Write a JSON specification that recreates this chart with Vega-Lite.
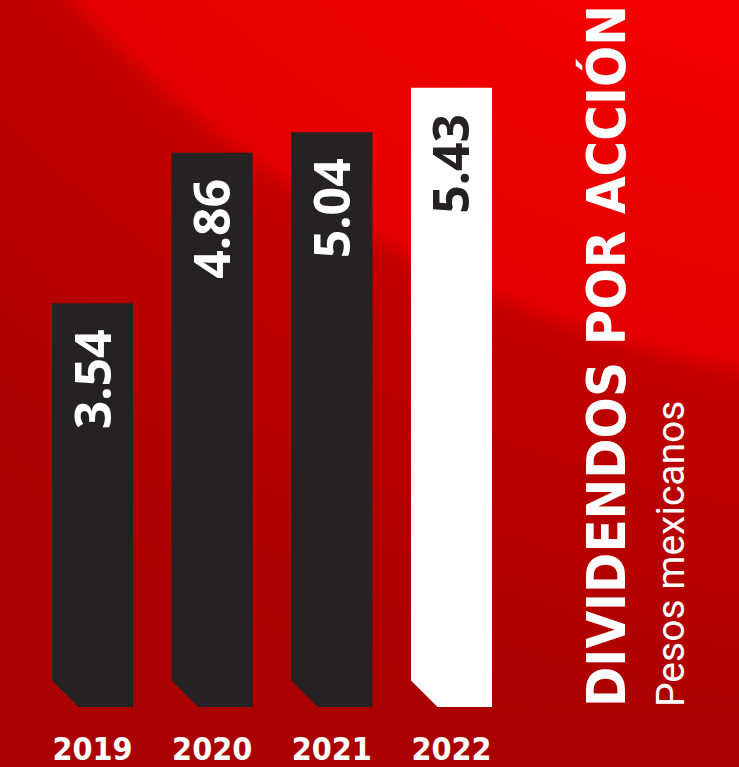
{
  "$schema": "https://vega.github.io/schema/vega-lite/v6.json",
  "width": 739,
  "height": 707,
  "padding": {"top": 0, "left": 0, "right": 0, "bottom": 60},
  "autosize": {"type": "none"},
  "background": "#ab0000",
  "config": {
    "view": {
      "stroke": null,
      "fill": {
        "gradient": "radial",
        "x1": 1.3151, "y1": -1.1115, "r1": 0,
        "x2": 1.3151, "y2": -1.1115, "r2": 2.5,
        "stops": [
          {"offset": 0, "color": "#ff0000"},
          {"offset": 0.45, "color": "#f70000"},
          {"offset": 0.66, "color": "#e40000"},
          {"offset": 0.672, "color": "#c40000"},
          {"offset": 0.7, "color": "#bd0000"},
          {"offset": 0.8, "color": "#b40000"},
          {"offset": 0.88, "color": "#ab0000"},
          {"offset": 1, "color": "#ab0000"}
        ]
      }
    }
  },
  "title": {
    "text": "DIVIDENDOS POR ACCIÓN",
    "subtitle": "Pesos mexicanos",
    "orient": "right",
    "anchor": "end",
    "frame": "group",
    "angle": 270,
    "align": "left",
    "baseline": "alphabetic",
    "offset": -224,
    "font": "DejaVu Sans Condensed",
    "fontWeight": "bold",
    "fontSize": 54,
    "color": "#ffffff",
    "subtitleFont": "Roboto",
    "subtitleFontSize": 39,
    "subtitleColor": "#ffffff",
    "subtitlePadding": -113
  },
  "data": {
    "values": [
      {"year": "2019", "value": 3.54},
      {"year": "2020", "value": 4.86},
      {"year": "2021", "value": 5.04},
      {"year": "2022", "value": 5.43}
    ]
  },
  "encoding": {
    "x": {
      "field": "year",
      "type": "ordinal",
      "scale": {"range": [52, 492], "paddingInner": 0.323, "paddingOuter": 0},
      "axis": {
        "title": null,
        "domain": false,
        "ticks": false,
        "labelAngle": 0,
        "labelFont": "DejaVu Sans Condensed",
        "labelFontWeight": "bold",
        "labelFontSize": 32,
        "labelColor": "#ffffff",
        "labelPadding": 52,
        "labelBaseline": "alphabetic"
      }
    }
  },
  "layer": [
    {
      "mark": {"type": "bar"},
      "encoding": {
        "y": {"field": "value", "type": "quantitative", "scale": {"domain": [0, 6.2], "nice": false}, "axis": null},
        "color": {"condition": {"test": "datum.year === '2022'", "value": "#ffffff"}, "value": "#262223"}
      }
    },
    {
      "mark": {
        "type": "point",
        "shape": "M -0.05 -1.03 L 1.03 0.05 L -0.05 0.05 Z",
        "filled": true,
        "size": 2916,
        "color": "#ab0000",
        "opacity": 1,
        "strokeWidth": 0
      },
      "encoding": {
        "x": {"field": "year", "type": "ordinal", "bandPosition": 0},
        "y": {"datum": 0, "type": "quantitative"}
      }
    },
    {
      "mark": {
        "type": "text",
        "angle": 270,
        "align": "right",
        "baseline": "middle",
        "dx": -26,
        "dy": 3,
        "font": "Open Sans",
        "fontWeight": "bold",
        "fontSize": 50
      },
      "encoding": {
        "y": {"field": "value", "type": "quantitative"},
        "text": {"field": "value", "type": "quantitative", "format": ".2f"},
        "color": {"condition": {"test": "datum.year === '2022'", "value": "#262223"}, "value": "#ffffff"}
      }
    }
  ]
}
